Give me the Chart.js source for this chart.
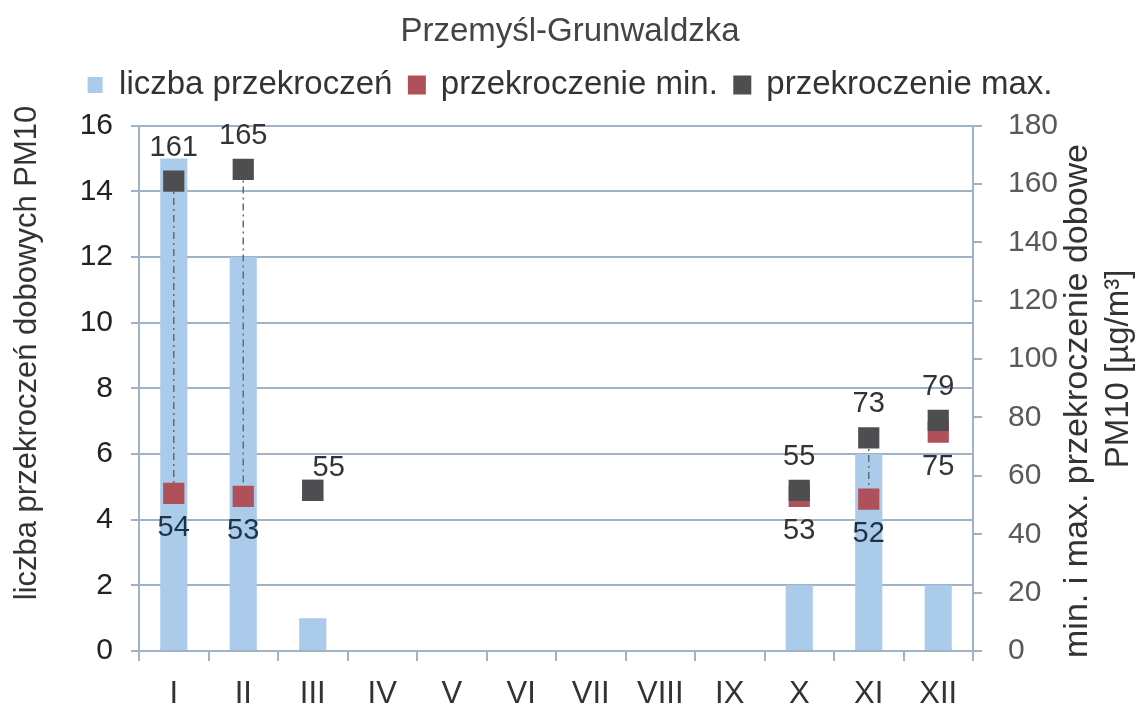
<!DOCTYPE html>
<html>
<head>
<meta charset="utf-8">
<script src="https://cdn.jsdelivr.net/npm/chart.js@4.4.1/dist/chart.umd.min.js"></script>
<style>
  body { margin: 0; background: #fff; }
  #wrap { width: 1140px; height: 712px; }
</style>
</head>
<body>
<div id="wrap"><canvas id="chart"></canvas></div>
<script>
var months = ['I', 'II', 'III', 'IV', 'V', 'VI', 'VII', 'VIII', 'IX', 'X', 'XI', 'XII'];
var counts = [15, 12, 1, 0, 0, 0, 0, 0, 0, 2, 6, 2];
var minVals = [54, 53, 55, null, null, null, null, null, null, 53, 52, 75];
var maxVals = [161, 165, 55, null, null, null, null, null, null, 55, 73, 79];
var leftTicks = [0, 2, 4, 6, 8, 10, 12, 14, 16];
var rightTicks = [0, 20, 40, 60, 80, 100, 120, 140, 160, 180];
var leftTitle = 'liczba przekroczeń dobowych PM10';
var rightTitle = ['min. i max. przekroczenie dobowe', 'PM10 [µg/m³]'];

var gridColor = '#9fb2c6';
var font = 'Liberation Sans, Arial, sans-serif';

// fixed legend height so the plot starts where it should
var legendHeight = {
    id: 'legendHeight',
    beforeLayout: function (chart) {
        var lg = chart.legend;
        if (lg && !lg._fixed) {
            var f = lg.fit;
            lg.fit = function () { f.call(this); this.height = 74; };
            lg._fixed = true;
        }
    }
};

// dash-dot line between min and max of each month
var rangeLines = {
    id: 'rangeLines',
    afterDatasetDraw: function (chart, args) {
        if (args.index !== 0) return;
        var ctx = chart.ctx;
        var x = chart.scales.x, y1 = chart.scales.y1;
        ctx.save();
        ctx.strokeStyle = '#6b6b6b';
        ctx.lineWidth = 1.5;
        ctx.setLineDash([7, 4, 2, 4]);
        for (var i = 0; i < months.length; i++) {
            if (minVals[i] == null || maxVals[i] == null || maxVals[i] - minVals[i] < 5) continue;
            var px = x.getPixelForValue(i);
            ctx.beginPath();
            ctx.moveTo(px, y1.getPixelForValue(maxVals[i]));
            ctx.lineTo(px, y1.getPixelForValue(minVals[i]));
            ctx.stroke();
        }
        ctx.restore();
    }
};

// value labels above max and below min markers, plus the axis titles
var valueLabels = {
    id: 'valueLabels',
    afterDatasetsDraw: function (chart) {
        var ctx = chart.ctx;
        var x = chart.scales.x, y1 = chart.scales.y1;
        ctx.save();
        ctx.font = '29px ' + font;
        ctx.textAlign = 'center';
        for (var i = 0; i < months.length; i++) {
            var px = x.getPixelForValue(i);
            if (maxVals[i] != null) {
                ctx.fillStyle = '#333';
                ctx.textBaseline = 'bottom';
                if (maxVals[i] === minVals[i]) {
                    ctx.fillText(String(maxVals[i]), px + 16, y1.getPixelForValue(maxVals[i]) - 8);
                } else {
                    ctx.fillText(String(maxVals[i]), px, y1.getPixelForValue(maxVals[i]) - 19);
                }
            }
            if (minVals[i] != null && minVals[i] !== maxVals[i]) {
                ctx.fillStyle = (i < 2 || i === 10) ? '#1f3346' : '#333';
                ctx.textBaseline = 'top';
                ctx.fillText(String(minVals[i]), px, y1.getPixelForValue(minVals[i]) + 20);
            }
        }
        ctx.restore();
    },
    afterDraw: function (chart) {
        var ctx = chart.ctx;
        ctx.save();
        ctx.fillStyle = '#333';
        ctx.textAlign = 'center';
        ctx.textBaseline = 'middle';
        ctx.font = '31px ' + font;
        ctx.translate(27, 353);
        ctx.rotate(-Math.PI / 2);
        ctx.fillText(leftTitle, 0, 0);
        ctx.restore();

        ctx.save();
        ctx.fillStyle = '#333';
        ctx.textAlign = 'center';
        ctx.textBaseline = 'middle';
        ctx.font = '34px ' + font;
        ctx.translate(1078, 401);
        ctx.rotate(-Math.PI / 2);
        ctx.fillText(rightTitle[0], 0, 0);
        ctx.restore();

        ctx.save();
        ctx.fillStyle = '#333';
        ctx.textAlign = 'center';
        ctx.textBaseline = 'middle';
        ctx.font = '33px ' + font;
        ctx.translate(1119, 369);
        ctx.rotate(-Math.PI / 2);
        ctx.fillText(rightTitle[1], 0, 0);
        ctx.restore();
    }
};

var ctx = document.getElementById('chart').getContext('2d');
var chart = new Chart(ctx, {
    type: 'bar',
    data: {
        labels: months,
        datasets: [{
            label: 'liczba przekroczeń',
            data: counts,
            backgroundColor: '#abcbea',
            borderWidth: 0,
            barPercentage: 0.39,
            categoryPercentage: 1,
            yAxisID: 'y',
            order: 3
        }, {
            type: 'line',
            label: 'przekroczenie min.',
            data: minVals,
            showLine: false,
            pointStyle: 'rect',
            pointRadius: 15,
            pointHoverRadius: 15,
            backgroundColor: '#b0505a',
            borderColor: '#b0505a',
            pointBorderWidth: 0,
            yAxisID: 'y1',
            order: 2
        }, {
            type: 'line',
            label: 'przekroczenie max.',
            data: maxVals,
            showLine: false,
            pointStyle: 'rect',
            pointRadius: 15,
            pointHoverRadius: 15,
            backgroundColor: '#4e4e50',
            borderColor: '#4e4e50',
            pointBorderWidth: 0,
            yAxisID: 'y1',
            order: 1
        }]
    },
    options: {
        responsive: true,
        maintainAspectRatio: false,
        animation: false,
        layout: { padding: 0 },
        plugins: {
            title: {
                display: true,
                text: 'Przemyśl-Grunwaldzka',
                color: '#444',
                font: { family: font, size: 33, weight: 'normal' },
                padding: { top: 12, bottom: 0 }
            },
            legend: {
                display: true,
                labels: {
                    color: '#333',
                    font: { family: font, size: 33 },
                    boxWidth: 15,
                    boxHeight: 16,
                    padding: 17,
                    sort: function (a, b) { return a.datasetIndex - b.datasetIndex; }
                }
            },
            tooltip: { enabled: false }
        },
        scales: {
            x: {
                offset: true,
                grid: { offset: true, drawOnChartArea: false, color: gridColor, lineWidth: 2, tickLength: 10 },
                border: { color: gridColor, width: 2 },
                ticks: { color: '#333', font: { family: font, size: 31 }, padding: 15 },
                afterFit: function (s) { s.height = 61; }
            },
            y: {
                position: 'left',
                min: 0,
                max: 16,
                afterBuildTicks: function (s) { s.ticks = leftTicks.map(function (v) { return { value: v }; }); },
                grid: { color: gridColor, lineWidth: 2, tickLength: 8 },
                border: { color: gridColor, width: 2 },
                ticks: { color: '#222', font: { family: font, size: 30 }, padding: 18 },
                afterFit: function (s) { s.width = 139; }
            },
            y1: {
                position: 'right',
                min: 0,
                max: 180,
                afterBuildTicks: function (s) { s.ticks = rightTicks.map(function (v) { return { value: v }; }); },
                grid: { drawOnChartArea: false, color: gridColor, lineWidth: 2, tickLength: 9 },
                border: { color: gridColor, width: 2 },
                ticks: { color: '#5a5a5a', font: { family: font, size: 30 }, padding: 26 },
                afterFit: function (s) { s.width = 167; }
            }
        }
    },
    plugins: [legendHeight, rangeLines, valueLabels]
});
</script>
</body>
</html>
